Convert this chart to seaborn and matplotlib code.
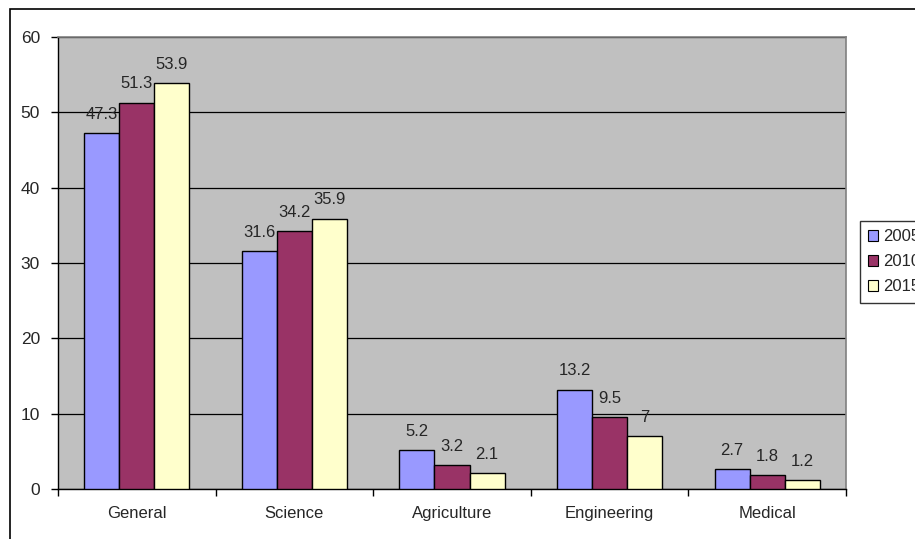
import matplotlib
matplotlib.use("Agg")
import matplotlib.pyplot as plt
import pandas as pd
import seaborn as sns
from matplotlib.patches import Rectangle

categories = ["General", "Science", "Agriculture", "Engineering", "Medical"]
years = ["2005", "2010", "2015"]
v2005 = [47.3, 31.6, 5.2, 13.2, 2.7]
v2010 = [51.3, 34.2, 3.2, 9.5, 1.8]
v2015 = [53.9, 35.9, 2.1, 7.0, 1.2]
colors = ["#9999FF", "#993366", "#FFFFCC"]

rows = []
for yr, vals in zip(years, [v2005, v2010, v2015]):
    for c, v in zip(categories, vals):
        rows.append({"cat": c, "year": yr, "val": v})
df = pd.DataFrame(rows)

sns.set_style("white")
plt.rcParams["font.family"] = ["Liberation Sans", "DejaVu Sans"]
plt.rcParams["font.size"] = 12

fig = plt.figure(figsize=(9.15, 5.39), dpi=100)
ax = fig.add_axes([58 / 915, 1 - 489 / 539, (846 - 58) / 915, (489 - 37) / 539])
ax.set_facecolor("#C0C0C0")

sns.barplot(data=df, x="cat", y="val", hue="year", palette=colors,
            width=0.667, gap=0, edgecolor="black", linewidth=1,
            saturation=1, ax=ax, legend=False, zorder=3)

for cont in ax.containers:
    ax.bar_label(cont, fmt="%g", padding=8, fontsize=12, zorder=4)

ax.set_ylim(0, 60)
ax.set_yticks(range(0, 61, 10))
ax.set_xlim(-0.5, 4.5)
ax.yaxis.grid(True, color="black", linewidth=0.9, zorder=0)
ax.set_axisbelow(True)
ax.set_xlabel("")
ax.set_ylabel("")

# tick marks between categories, labels centred
ax.set_xticks([i - 0.5 for i in range(6)])
ax.set_xticklabels([])
ax.set_xticks(range(5), minor=True)
ax.set_xticklabels(categories, minor=True)
ax.tick_params(axis="x", which="major", length=5, width=1, color="black", direction="out", bottom=True)
ax.tick_params(axis="x", which="minor", length=0, pad=12, labelsize=12)
ax.tick_params(axis="y", length=5, width=1, color="black", direction="out", left=True, pad=8, labelsize=12.5)

for s in ["left", "bottom"]:
    ax.spines[s].set_color("black")
    ax.spines[s].set_linewidth(1)
for s in ["top", "right"]:
    ax.spines[s].set_color("#808080")
    ax.spines[s].set_linewidth(1.2)

# legend at right, partly cut off like the original
handles = [Rectangle((0, 0), 1, 1, facecolor=c, edgecolor="black", linewidth=0.8) for c in colors]
leg = fig.legend(handles, years, loc="upper left",
                 bbox_to_anchor=(860 / 915, 1 - 221 / 539),
                 frameon=True, fancybox=False, fontsize=12,
                 handlelength=0.6, handleheight=0.6, handletextpad=0.3,
                 labelspacing=0.6, borderpad=0.5, borderaxespad=0)
leg.get_frame().set_edgecolor("black")
leg.get_frame().set_linewidth(1)

# outer chart border
fig.patches.append(Rectangle((10 / 915, -0.01), 1.0, 1 - 9 / 539 + 0.01,
                             transform=fig.transFigure, fill=False,
                             edgecolor="black", linewidth=1.2))

fig.savefig("out.png", dpi=100)
